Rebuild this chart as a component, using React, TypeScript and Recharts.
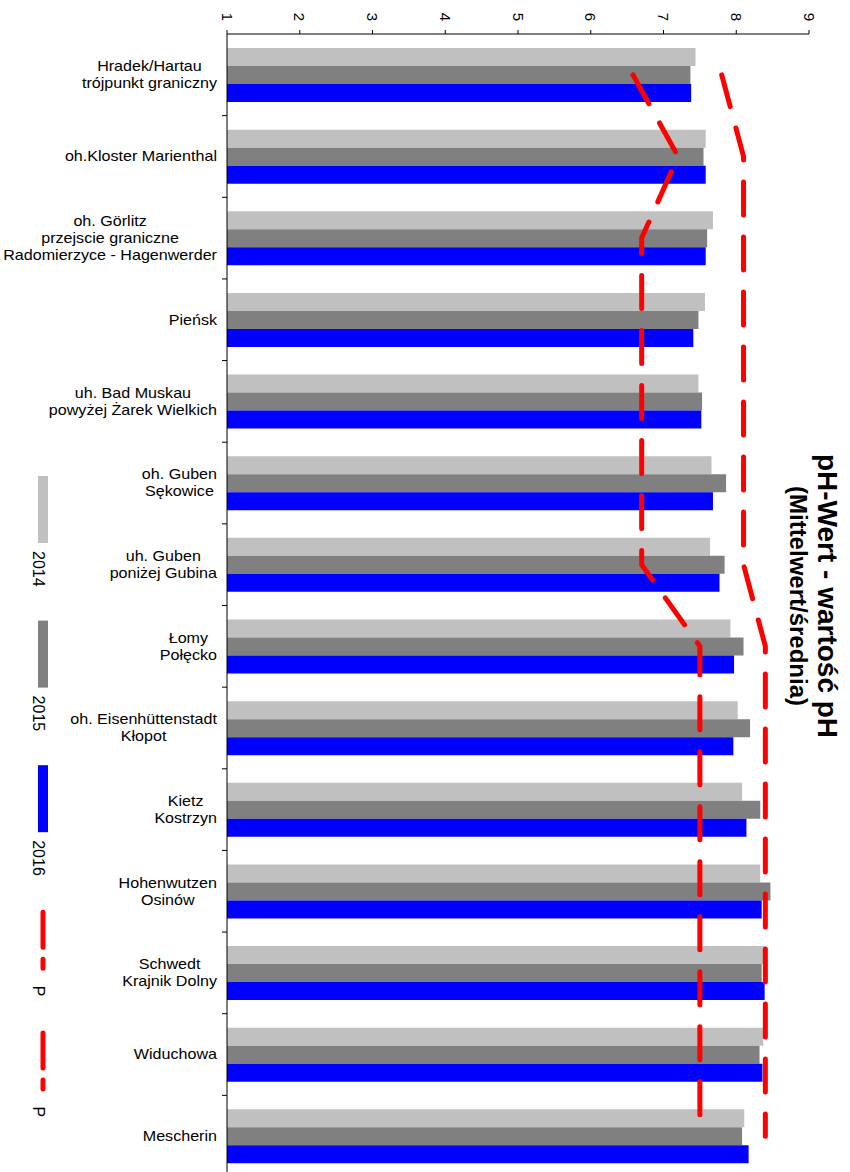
import { ComposedChart, Bar, Line, XAxis, YAxis, Legend } from 'recharts'

const STATIONS = [
  'Hradek/Hartau\ntrójpunkt graniczny',
  'oh.Kloster Marienthal',
  'oh. Görlitz\nprzejscie graniczne\nRadomierzyce - Hagenwerder',
  'Pieńsk',
  'uh. Bad Muskau\npowyżej Żarek Wielkich',
  'oh. Guben\nSękowice',
  'uh. Guben\nponiżej Gubina',
  'Łomy\nPołęcko',
  'oh. Eisenhüttenstadt\nKłopot',
  'Kietz\nKostrzyn',
  'Hohenwutzen\nOsinów',
  'Schwedt\nKrajnik Dolny',
  'Widuchowa',
  'Mescherin',
]

const PH_2014 = [7.44, 7.58, 7.68, 7.57, 7.48, 7.66, 7.64, 7.92, 8.02, 8.08, 8.33, 8.39, 8.37, 8.11]
const PH_2015 = [7.37, 7.55, 7.6, 7.48, 7.53, 7.86, 7.84, 8.1, 8.19, 8.33, 8.47, 8.35, 8.32, 8.08]
const PH_2016 = [7.38, 7.58, 7.58, 7.41, 7.52, 7.68, 7.77, 7.97, 7.96, 8.14, 8.35, 8.39, 8.36, 8.17]
// lower and upper limits (P)
const P_LOW = [6.58, 7.2, 6.7, 6.7, 6.7, 6.7, 6.7, 7.5, 7.5, 7.5, 7.5, 7.5, 7.5, 7.5]
const P_HIGH = [7.8, 8.1, 8.1, 8.1, 8.1, 8.1, 8.1, 8.4, 8.4, 8.4, 8.4, 8.4, 8.4, 8.4]

const X_TICKS = [1, 2, 3, 4, 5, 6, 7, 8, 9]
const TITLE = 'pH-Wert - wartość pH'
const SUBTITLE = '(Mittelwert/średnia)'

const data = STATIONS.map((name, i) => ({
  name,
  y2014: PH_2014[i],
  y2015: PH_2015[i],
  y2016: PH_2016[i],
  pLow: P_LOW[i],
  pHigh: P_HIGH[i],
}))

const WIDTH = 850
const HEIGHT = 1180
const MARGIN = { top: 4, right: 41, bottom: 3, left: 0 }
const X_AXIS_HEIGHT = 30
const BAND = (HEIGHT - MARGIN.top - X_AXIS_HEIGHT - MARGIN.bottom) / STATIONS.length
const FONT = '"Liberation Sans", Arial, sans-serif'
const RED = '#FF0000'

let ctx: CanvasRenderingContext2D | null = null
function textWidth(s: string, font: string) {
  if (!ctx) ctx = document.createElement('canvas').getContext('2d')
  if (!ctx) return s.length * 7
  ctx.font = font
  return ctx.measureText(s).width
}

function ValueTick({ x, y, payload }: any) {
  return (
    <text
      x={x}
      y={y}
      transform={`rotate(90 ${x} ${y})`}
      textAnchor="end"
      dominantBaseline="central"
      fontSize={15}
      fontFamily={FONT}
      fill="#000"
    >
      {payload.value}
    </text>
  )
}

function StationTick({ x, y, payload }: any) {
  const lines = String(payload.value).split('\n')
  const w = Math.max(...lines.map((l) => textWidth(l, `14px ${FONT}`)))
  const top = -((lines.length - 1) * 17) / 2
  return (
    <g>
      <g transform={`translate(${x},${y}) scale(1.15,1)`}>
        <text textAnchor="middle" fontSize={14} fontFamily={FONT} fill="#000">
          {lines.map((l, i) => (
            <tspan key={i} x={-w / 2} y={top + i * 17} dy="0.35em">
              {l}
            </tspan>
          ))}
        </text>
      </g>
      <line x1={x + 5} x2={x + 10} y1={y + BAND / 2} y2={y + BAND / 2} stroke="#000" />
    </g>
  )
}

function PhLegend({ payload }: any) {
  const items = payload ?? []
  let pos = 476
  const els = items.map((e: any, i: number) => {
    const isLine = e.type === 'line'
    const start = pos
    const swatch = isLine ? 61 : 67
    const gap = isLine ? 15 : 8
    const labelW = textWidth(String(e.value), `16px ${FONT}`)
    const labelY = start + swatch + gap
    pos = labelY + labelW + 34
    return (
      <g key={i}>
        {isLine ? (
          <line
            x1={43}
            x2={43}
            y1={start + 2.5}
            y2={start + swatch - 2.5}
            stroke={e.color}
            strokeWidth={5}
            strokeDasharray="35 12"
            strokeLinecap="round"
          />
        ) : (
          <rect x={38} y={start} width={10} height={swatch} fill={e.color} />
        )}
        <text
          x={33}
          y={labelY}
          transform={`rotate(90 33 ${labelY})`}
          fontSize={16}
          fontFamily={FONT}
          fill="#000"
        >
          {e.value}
        </text>
      </g>
    )
  })
  return (
    <svg width={70} height={1172} style={{ display: 'block' }}>
      <rect x={0} y={462} width={70} height={673} fill="#fff" />
      {els}
    </svg>
  )
}

export default function App() {
  return (
    <div
      style={{
        position: 'absolute',
        left: 0,
        top: 0,
        width: WIDTH,
        height: 1172,
        overflow: 'hidden',
        background: '#fff',
        fontFamily: FONT,
      }}
    >
      <ComposedChart width={WIDTH} height={HEIGHT} data={data} layout="vertical" margin={MARGIN} barGap={0}>
        <XAxis
          type="number"
          orientation="top"
          domain={[1, 9]}
          ticks={X_TICKS}
          height={X_AXIS_HEIGHT}
          tickSize={4}
          tickMargin={9}
          axisLine={{ stroke: '#000' }}
          tickLine={{ stroke: '#000' }}
          tick={<ValueTick />}
        />
        <YAxis
          type="category"
          dataKey="name"
          width={227}
          interval={0}
          tickSize={0}
          tickMargin={10}
          tickLine={false}
          axisLine={{ stroke: '#000' }}
          tick={<StationTick />}
        />
        <Legend
          layout="horizontal"
          verticalAlign="middle"
          align="center"
          wrapperStyle={{ position: 'absolute', left: 0, top: 0, width: 70, height: 1172 }}
          content={<PhLegend />}
        />
        <Bar dataKey="y2014" name="2014" fill="#C0C0C0" barSize={18} legendType="rect" isAnimationActive={false} />
        <Bar dataKey="y2015" name="2015" fill="#808080" barSize={18} legendType="rect" isAnimationActive={false} />
        <Bar dataKey="y2016" name="2016" fill="#0000FF" barSize={18} legendType="rect" isAnimationActive={false} />
        <Line
          dataKey="pLow"
          name="P"
          type="linear"
          stroke={RED}
          strokeWidth={5}
          strokeDasharray="33 22"
          strokeLinecap="round"
          dot={false}
          activeDot={false}
          legendType="line"
          isAnimationActive={false}
        />
        <Line
          dataKey="pHigh"
          name="P"
          type="linear"
          stroke={RED}
          strokeWidth={5}
          strokeDasharray="33 22"
          strokeLinecap="round"
          dot={false}
          activeDot={false}
          legendType="line"
          isAnimationActive={false}
        />
      </ComposedChart>
      <svg
        width={WIDTH}
        height={1172}
        style={{ position: 'absolute', left: 0, top: 0, pointerEvents: 'none' }}
      >
        <text
          x={818}
          y={596}
          transform="rotate(90 818 596)"
          textAnchor="middle"
          fontSize={28}
          fontWeight="bold"
          fontFamily={FONT}
          fill="#000"
        >
          {TITLE}
        </text>
        <text
          x={790}
          y={596}
          transform="rotate(90 790 596)"
          textAnchor="middle"
          fontSize={24}
          fontWeight="bold"
          fontFamily={FONT}
          fill="#000"
        >
          {SUBTITLE}
        </text>
      </svg>
    </div>
  )
}
